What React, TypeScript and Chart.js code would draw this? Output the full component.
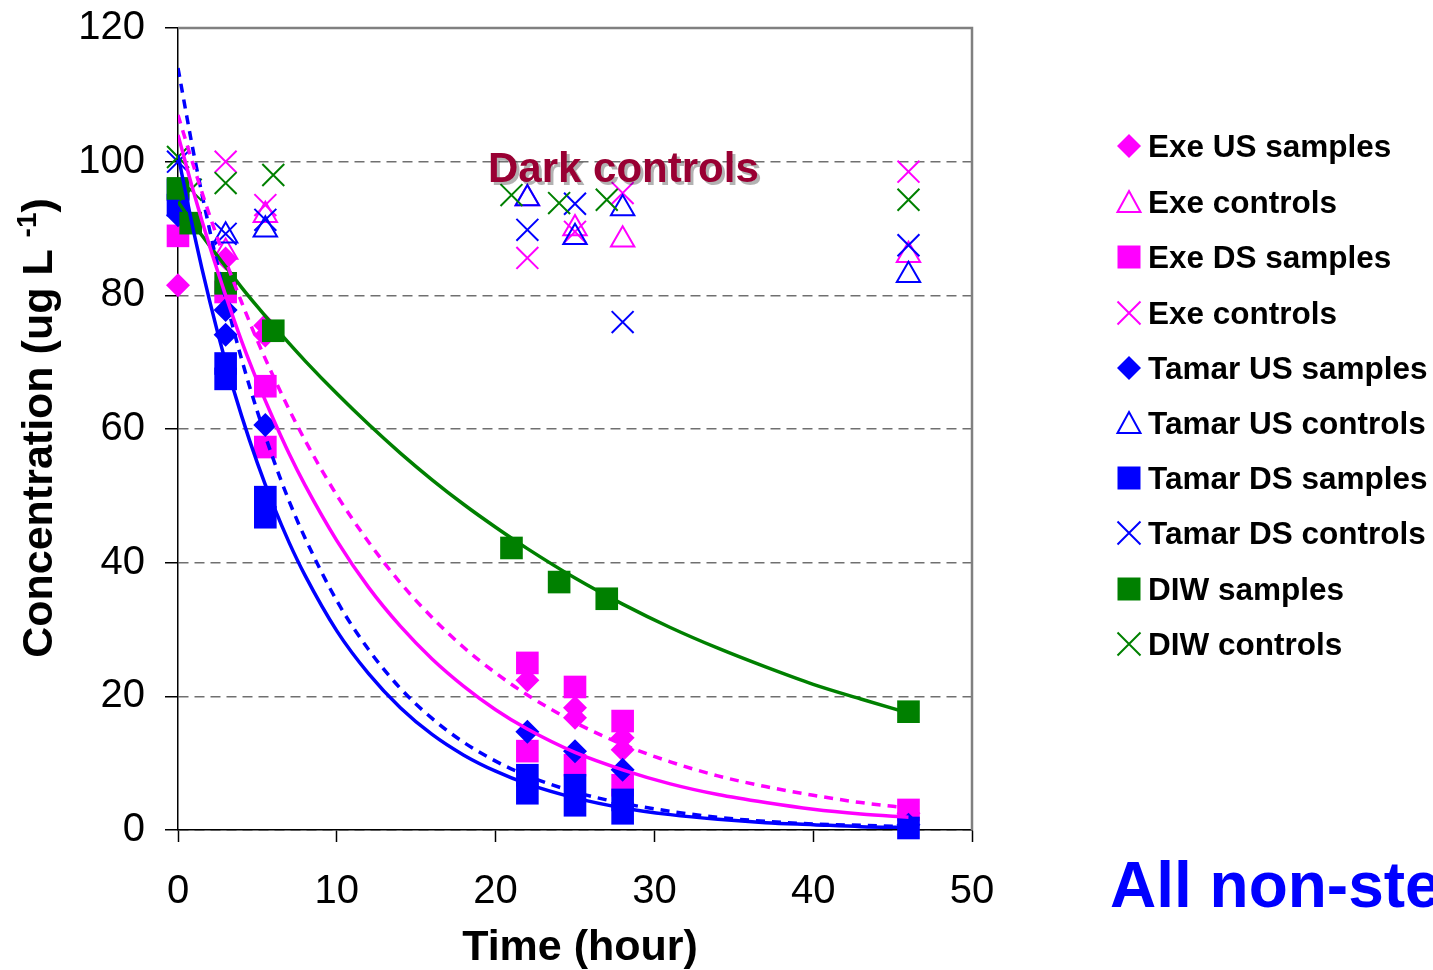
import React, { useEffect, useRef } from "react";
import { Chart, registerables } from "chart.js";

Chart.register(...registerables);

const MAGENTA = "#FF00FF";
const BLUE = "#0000FF";
const GREEN = "#008000";
const FONT = '"Liberation Sans", Arial, Helvetica, sans-serif';

// ---- observed data (time in hours, concentration in ug/L) ----
const exeUsSamples = [[0, 81.5], [3, 85.5], [5.5, 75.5], [5.5, 74], [22, 22.4], [25, 18.3], [25, 16.8], [28, 13.8], [28, 12], [46, 2.5]];
const exeControlsTri = [[3, 86.5], [5.5, 92], [22, 94.5], [25, 90], [28, 88.3], [46, 86]];
const exeDsSamples = [[0, 88.9], [3, 80.5], [5.5, 66.4], [5.5, 57.3], [22, 25], [22, 11.8], [25, 21.4], [25, 9.7], [28, 16.3], [28, 6.7], [46, 3.0]];
const exeControlsX = [[3, 100], [5.5, 93.5], [22, 85.6], [25, 89.5], [28, 95.3], [46, 98.5]];
const tamarUsSamples = [[0, 92], [3, 77.8], [3, 74.1], [5.5, 60.6], [22, 14.7], [25, 11.8], [28, 9.0], [46, 0.8]];
const tamarUsControls = [[3, 88.9], [5.5, 89.8], [22, 94.5], [25, 88.7], [28, 93], [46, 83]];
const tamarDsSamples = [[0, 95.8], [0, 93.5], [3, 69.8], [3, 67.5], [5.5, 49.8], [5.5, 46.8], [22, 8.2], [22, 5.5], [25, 6.7], [25, 3.7], [28, 4.5], [28, 2.5], [46, 0.3]];
const tamarDsControls = [[0, 100], [3, 89.2], [5.5, 91.3], [22, 89.8], [25, 93.7], [28, 76], [46, 87.5]];
const diwSamples = [[0, 96], [0.8, 90.8], [3, 81.8], [6, 74.7], [21, 42.2], [24, 37.1], [27, 34.6], [46, 17.7]];
const diwControls = [[0, 100.7], [0.8, 95.8], [3, 96.8], [6, 98], [21, 95], [24, 93.8], [27, 94.3], [46, 94.3]];

// ---- trend lines ----
const fitTimes = [0, 1, 2, 3, 4, 5, 6, 7, 8, 10, 12, 14, 16, 18, 20, 22, 25, 28, 31, 34, 37, 40, 43, 46];
const exeUsFit = [107, 99.2, 91.9, 85.2, 79.0, 73.2, 67.9, 62.9, 58.3, 50.1, 43.1, 37.0, 31.8, 27.3, 23.5, 20.2, 16.1, 12.8, 10.2, 8.1, 6.5, 5.2, 4.1, 3.3];
const exeDsFit = [104, 95.3, 87.3, 80.0, 73.2, 67.1, 61.5, 56.3, 51.6, 43.3, 36.3, 30.5, 25.6, 21.5, 18.0, 15.1, 11.6, 9.0, 6.9, 5.3, 4.1, 3.1, 2.4, 1.9];
const tamarUsFit = [114, 101.1, 89.7, 79.5, 70.5, 62.6, 55.5, 49.2, 43.7, 34.3, 27.0, 21.2, 16.7, 13.1, 10.3, 8.1, 5.7, 4.0, 2.8, 1.9, 1.3, 0.9, 0.7, 0.5];
const tamarDsFit = [101, 89.4, 79.1, 70.0, 62.0, 54.9, 48.6, 43.0, 38.1, 29.8, 23.4, 18.3, 14.3, 11.2, 8.8, 6.9, 4.8, 3.3, 2.3, 1.6, 1.1, 0.8, 0.5, 0.4];
const diwFit = [94, 90.6, 87.4, 84.3, 81.2, 78.3, 75.5, 72.8, 70.2, 65.3, 60.7, 56.4, 52.4, 48.7, 45.3, 42.1, 37.7, 33.8, 30.3, 27.2, 24.4, 21.8, 19.6, 17.5];

const xTicks = [0, 10, 20, 30, 40, 50];
const yTicks = [0, 20, 40, 60, 80, 100, 120];

type Marker = "rectRot" | "triangle" | "rect" | "crossRot";
const series: { label: string; data: number[][]; color: string; style: Marker }[] = [
  { label: "Exe US samples", data: exeUsSamples, color: MAGENTA, style: "rectRot" },
  { label: "Exe controls", data: exeControlsTri, color: MAGENTA, style: "triangle" },
  { label: "Exe DS samples", data: exeDsSamples, color: MAGENTA, style: "rect" },
  { label: "Exe controls", data: exeControlsX, color: MAGENTA, style: "crossRot" },
  { label: "Tamar US samples", data: tamarUsSamples, color: BLUE, style: "rectRot" },
  { label: "Tamar US controls", data: tamarUsControls, color: BLUE, style: "triangle" },
  { label: "Tamar DS samples", data: tamarDsSamples, color: BLUE, style: "rect" },
  { label: "Tamar DS controls", data: tamarDsControls, color: BLUE, style: "crossRot" },
  { label: "DIW samples", data: diwSamples, color: GREEN, style: "rect" },
  { label: "DIW controls", data: diwControls, color: GREEN, style: "crossRot" },
];

const fits = [
  { label: "Exe US fit", values: exeUsFit, color: MAGENTA, dash: [9, 7] },
  { label: "Exe DS fit", values: exeDsFit, color: MAGENTA, dash: [] as number[] },
  { label: "Tamar US fit", values: tamarUsFit, color: BLUE, dash: [9, 7] },
  { label: "Tamar DS fit", values: tamarDsFit, color: BLUE, dash: [] as number[] },
  { label: "DIW fit", values: diwFit, color: GREEN, dash: [] as number[] },
];

const radiusFor = (s: Marker) => (s === "rect" ? 16 : s === "rectRot" ? 12 : s === "triangle" ? 13.5 : 15.5);

function drawMarker(ctx: CanvasRenderingContext2D, style: Marker, x: number, y: number, color: string) {
  ctx.save();
  ctx.fillStyle = color;
  ctx.strokeStyle = color;
  ctx.lineWidth = 2;
  ctx.beginPath();
  if (style === "rectRot") {
    const r = 12;
    ctx.moveTo(x - r, y);
    ctx.lineTo(x, y - r);
    ctx.lineTo(x + r, y);
    ctx.lineTo(x, y + r);
    ctx.closePath();
    ctx.fill();
  } else if (style === "rect") {
    ctx.rect(x - 11.5, y - 11.5, 23, 23);
    ctx.fill();
  } else if (style === "triangle") {
    ctx.moveTo(x, y - 11);
    ctx.lineTo(x + 11.5, y + 10);
    ctx.lineTo(x - 11.5, y + 10);
    ctx.closePath();
    ctx.stroke();
  } else {
    const h = 11.5;
    ctx.moveTo(x - h, y - h);
    ctx.lineTo(x + h, y + h);
    ctx.moveTo(x + h, y - h);
    ctx.lineTo(x - h, y + h);
    ctx.stroke();
  }
  ctx.restore();
}

const decorPlugin = {
  id: "decor",
  afterDraw(chart: any) {
    const { ctx, chartArea: a } = chart;
    ctx.save();
    // plot frame (top/right)
    ctx.strokeStyle = "#808080";
    ctx.lineWidth = 2.5;
    ctx.beginPath();
    ctx.moveTo(a.left, a.top);
    ctx.lineTo(a.right, a.top);
    ctx.lineTo(a.right, a.bottom);
    ctx.stroke();

    // annotation
    ctx.save();
    ctx.font = `bold 42px ${FONT}`;
    ctx.textAlign = "left";
    ctx.textBaseline = "alphabetic";
    ctx.shadowColor = "rgba(0,0,0,0.3)";
    ctx.shadowOffsetX = 3;
    ctx.shadowOffsetY = 3;
    ctx.fillStyle = "#990033";
    ctx.fillText("Dark controls", 488, 182);
    ctx.restore();

    // x title
    ctx.fillStyle = "#000";
    ctx.font = `bold 43px ${FONT}`;
    ctx.textAlign = "center";
    ctx.textBaseline = "alphabetic";
    ctx.fillText("Time (hour)", 580, 960);

    // y title with superscript
    ctx.save();
    ctx.translate(52, 428);
    ctx.rotate(-Math.PI / 2);
    const main = "Concentration (ug L ";
    const sup = "-1";
    const close = ")";
    ctx.font = `bold 43px ${FONT}`;
    const wMain = ctx.measureText(main).width;
    const wClose = ctx.measureText(close).width;
    ctx.font = `bold 28px ${FONT}`;
    const wSup = ctx.measureText(sup).width;
    const total = wMain + wSup + wClose;
    let x0 = -total / 2;
    ctx.textAlign = "left";
    ctx.font = `bold 43px ${FONT}`;
    ctx.fillText(main, x0, 0);
    x0 += wMain;
    ctx.font = `bold 28px ${FONT}`;
    ctx.fillText(sup, x0, -16);
    x0 += wSup;
    ctx.font = `bold 43px ${FONT}`;
    ctx.fillText(close, x0, 0);
    ctx.restore();

    // legend
    const rowY = [146, 202, 257, 313, 368, 423, 478, 533, 589, 644];
    ctx.font = `bold 31.5px ${FONT}`;
    ctx.textAlign = "left";
    ctx.textBaseline = "alphabetic";
    series.forEach((s, i) => {
      drawMarker(ctx, s.style, 1129, rowY[i], s.color);
      ctx.fillStyle = "#000";
      ctx.fillText(s.label, 1148, rowY[i] + 11);
    });

    // bottom-right caption (cut by page edge)
    ctx.fillStyle = BLUE;
    ctx.font = `bold 64px ${FONT}`;
    ctx.fillText("All non-steroids", 1110, 907);
    ctx.restore();
  },
};

export default function App() {
  const canvasRef = useRef<HTMLCanvasElement | null>(null);

  useEffect(() => {
    if (!canvasRef.current) return;
    const markerSets = series.map((s, i) => ({
      type: "scatter" as const,
      label: s.label,
      data: s.data.map(([x, y]) => ({ x, y })),
      pointStyle: s.style,
      pointRadius: radiusFor(s.style),
      pointHoverRadius: radiusFor(s.style),
      pointBackgroundColor: s.style === "rect" || s.style === "rectRot" ? s.color : "rgba(0,0,0,0)",
      pointBorderColor: s.color,
      pointBorderWidth: s.style === "rect" || s.style === "rectRot" ? 0 : 2,
      backgroundColor: s.color,
      borderColor: s.color,
      showLine: false,
      clip: false as const,
      order: 100 - i,
    }));
    const lineSets = fits.map((f) => ({
      type: "line" as const,
      label: f.label,
      data: fitTimes.map((t, j) => ({ x: t, y: f.values[j] })),
      borderColor: f.color,
      backgroundColor: f.color,
      borderWidth: 3.5,
      borderDash: f.dash,
      pointRadius: 0,
      pointHoverRadius: 0,
      fill: false,
      cubicInterpolationMode: "monotone" as const,
      order: 0,
    }));

    const chart = new Chart(canvasRef.current, {
      type: "scatter",
      data: { datasets: [...markerSets, ...lineSets] as any },
      options: {
        animation: false,
        responsive: true,
        maintainAspectRatio: false,
        layout: { padding: { left: 0, top: 28, right: 461, bottom: 0 } },
        plugins: { legend: { display: false }, tooltip: { enabled: false }, title: { display: false } },
        scales: {
          x: {
            type: "linear",
            min: 0,
            max: 50,
            afterFit: (scale: any) => {
              scale.height = 140;
              scale.paddingLeft = 0;
              scale.paddingRight = 0;
            },
            afterBuildTicks: (scale: any) => {
              scale.ticks = xTicks.map((v) => ({ value: v }));
            },
            ticks: {
              font: { family: FONT, size: 40 },
              color: "#000",
              padding: 26,
              maxRotation: 0,
            },
            grid: {
              drawOnChartArea: false,
              drawTicks: true,
              tickLength: 12,
              tickColor: "#000",
              tickWidth: 1.5,
            },
            border: { display: true, color: "#000", width: 1.5 },
            title: { display: false },
          },
          y: {
            type: "linear",
            min: 0,
            max: 120,
            afterFit: (scale: any) => {
              scale.width = 178;
              scale.paddingTop = 0;
              scale.paddingBottom = 0;
            },
            afterBuildTicks: (scale: any) => {
              scale.ticks = yTicks.map((v) => ({ value: v }));
            },
            ticks: {
              font: { family: FONT, size: 40 },
              color: "#000",
              padding: 20,
            },
            grid: {
              color: "#707070",
              lineWidth: 1.5,
              drawTicks: true,
              tickLength: 13,
              tickColor: "#000",
              tickWidth: 1.5,
              tickBorderDash: [],
            },
            border: { display: true, color: "#000", width: 1.5, dash: [10, 6] },
            title: { display: false },
          },
        },
      },
      plugins: [decorPlugin],
    });
    return () => chart.destroy();
  }, []);

  return (
    <div style={{ position: "absolute", left: 0, top: 0, width: 1433, height: 970, background: "#fff" }}>
      <canvas ref={canvasRef} />
    </div>
  );
}
